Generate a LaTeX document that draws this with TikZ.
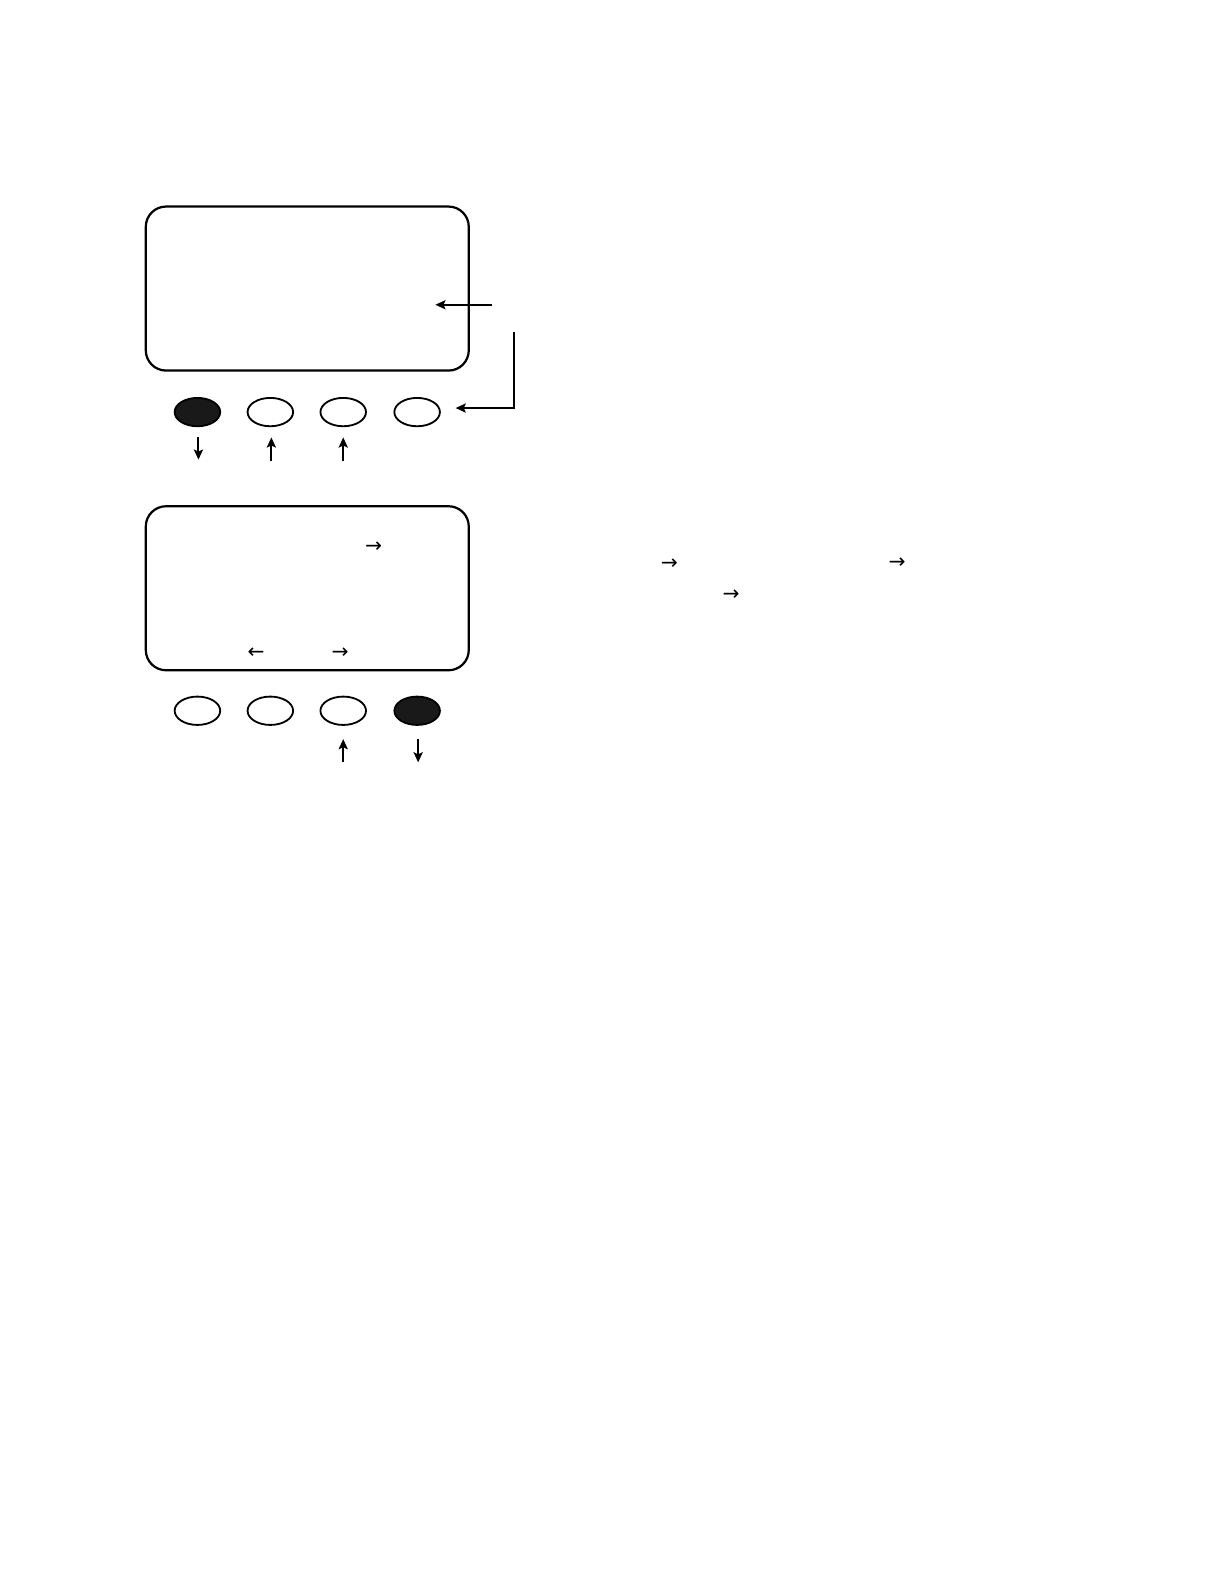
\documentclass[tikz,border=0pt]{standalone}
\usepackage{fontspec}
\newfontfamily\arrowfont{DejaVu Sans}
\usetikzlibrary{shapes.geometric,arrows.meta}
\begin{document}
\begin{tikzpicture}[x=1pt,y=-1pt,
  screen/.style={draw,line width=2.2pt,rounded corners=20pt},
  btn/.style={draw,ellipse,line width=1.8pt,minimum width=45pt,minimum height=28pt,inner sep=0pt},
  btnon/.style={btn,fill=black!90},
  arr/.style={line width=2pt,-{Stealth[length=10pt,width=9pt,inset=2pt]}},
  glyph/.style={inner sep=0pt,font=\arrowfont\fontsize{20}{20}\selectfont}]
\useasboundingbox (0,0) rectangle (1209,1564.5);
% top screen
\draw[screen] (144,204) rectangle (463,366);
\coordinate (p1s) at (486,301);
\coordinate (p1e) at (430,301);
\draw[arr] (p1s) -- (p1e);
\node[btnon] (a1) at (195,407) {};
\node[btn] (a2) at (267,407) {};
\node[btn] (a3) at (339,407) {};
\node[btn] (a4) at (412,407) {};
\coordinate (p2s) at (508,328);
\coordinate (p2c) at (508,403);
\coordinate (p2e) at (450,403);
\draw[arr] (p2s) -- (p2c) -- (p2e);
\coordinate (d1s) at (196,432); \coordinate (d1e) at (196,454);
\draw[arr] (d1s) -- (d1e);
\coordinate (u2s) at (268,455); \coordinate (u2e) at (268,432);
\draw[arr] (u2s) -- (u2e);
\coordinate (u3s) at (339,455); \coordinate (u3e) at (339,432);
\draw[arr] (u3s) -- (u3e);
% bottom screen
\draw[screen] (144,500) rectangle (463,662);
\node[glyph] (t1) at (369,540) {→};
\node[glyph] (t2) at (253,645) {←};
\node[glyph] (t3) at (336,645) {→};
\node[btn] (b1) at (195,702) {};
\node[btn] (b2) at (267,702) {};
\node[btn] (b3) at (339,702) {};
\node[btnon] (b4) at (412,702) {};
\coordinate (u4s) at (339,753); \coordinate (u4e) at (339,730);
\draw[arr] (u4s) -- (u4e);
\coordinate (d5s) at (413,730); \coordinate (d5e) at (413,753);
\draw[arr] (d5s) -- (d5e);
% loose text arrows
\node[glyph] (t4) at (661,557) {→};
\node[glyph] (t5) at (886,556) {→};
\node[glyph] (t6) at (722,588) {→};
\end{tikzpicture}
\end{document}
